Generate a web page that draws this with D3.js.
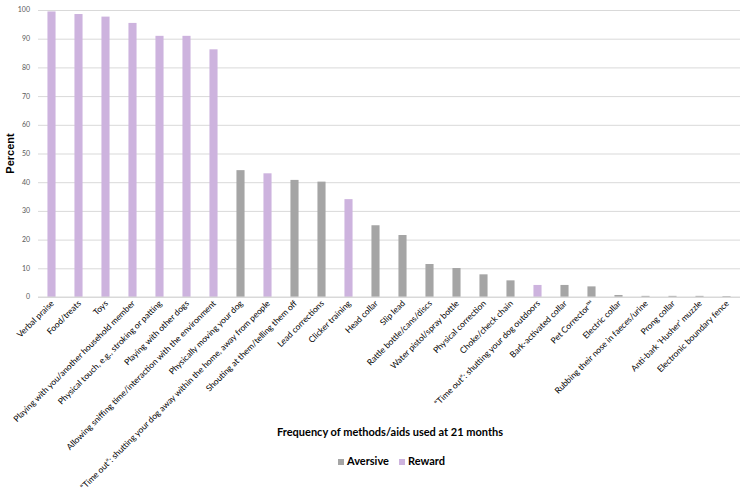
<!DOCTYPE html>
<html lang="en">
<head>
    <meta charset="UTF-8">
    <title>Frequency of methods/aids used at 21 months</title>
    <style>
        body { margin: 0; background: #fff; font-family: Lato, "Open Sans", sans-serif; }
        svg { display: block; }
        .grid line { stroke: #d9d9d9; stroke-width: 1; }
        .grid path { display: none; }
    </style>
    <script src="https://d3js.org/d3.v7.min.js"></script>
</head>
<body>
<svg width="746" height="499"></svg>
<script>
    const categories = [
        "Verbal praise", "Food/treats", "Toys", "Playing with you/another household member",
        "Physical touch, e.g., stroking or patting", "Playing with other dogs",
        "Allowing sniffing time/interaction with the environment", "Physically moving your dog",
        "\u201CTime out\u201D: shutting your dog away within the home, away from people",
        "Shouting at them/telling them off", "Lead corrections", "Clicker training",
        "Head collar", "Slip lead", "Rattle bottle/cans/discs", "Water pistol/spray bottle",
        "Physical correction", "Choke/check chain", "\u201CTime out\u201D: shutting your dog outdoors",
        "Bark-activated collar", "Pet Corrector\u2122", "Electric collar",
        "Rubbing their nose in faeces/urine", "Prong collar", "Anti-bark \u2018Husher\u2019 muzzle",
        "Electronic boundary fence"
    ];
    const values = [99.5, 98.6, 97.7, 95.5, 91.0, 91.0, 86.3, 44.2, 43.1, 40.8, 40.2, 34.1,
        25.0, 21.6, 11.5, 10.1, 7.9, 5.8, 4.2, 4.2, 3.7, 0.7, 0.4, 0.4, 0.4, 0.3];
    const types = ["Reward", "Reward", "Reward", "Reward", "Reward", "Reward", "Reward",
        "Aversive", "Reward", "Aversive", "Aversive", "Reward", "Aversive", "Aversive",
        "Aversive", "Aversive", "Aversive", "Aversive", "Reward", "Aversive", "Aversive",
        "Aversive", "Aversive", "Aversive", "Aversive", "Aversive"];
    const legendKeys = ["Aversive", "Reward"];
    const yTicks = [0, 10, 20, 30, 40, 50, 60, 70, 80, 90, 100];

    const data = categories.map((c, i) => ({ name: c, value: values[i], type: types[i] }));

    const svg = d3.select("svg");
    const margin = { top: 10, right: 6, bottom: 202, left: 38 };
    const width = 746, height = 499;

    const x = d3.scaleBand()
        .domain(categories)
        .range([margin.left, width - margin.right])
        .paddingInner(0.7)
        .paddingOuter(0.35);

    const y = d3.scaleLinear()
        .domain([0, 100])
        .range([height - margin.bottom, margin.top]);

    const color = d3.scaleOrdinal()
        .domain(legendKeys)
        .range(["#a5a5a5", "#cdb3de"]);

    // gridlines
    svg.append("g")
        .attr("class", "grid")
        .attr("transform", `translate(${margin.left},0)`)
        .call(d3.axisLeft(y).tickValues(yTicks).tickSize(-(width - margin.right - margin.left)).tickFormat(""));

    // y tick labels
    svg.append("g")
        .selectAll("text")
        .data(yTicks)
        .join("text")
        .attr("x", margin.left - 8)
        .attr("y", d => y(d))
        .attr("dy", "0.35em")
        .attr("text-anchor", "end")
        .attr("font-size", 7)
        .attr("fill", "#595959")
        .text(d => d);

    // bars
    svg.append("g")
        .selectAll("rect")
        .data(data)
        .join("rect")
        .attr("x", d => x(d.name))
        .attr("y", d => y(d.value))
        .attr("width", x.bandwidth())
        .attr("height", d => y(0) - y(d.value))
        .attr("fill", d => color(d.type));

    // baseline
    svg.append("line")
        .attr("x1", margin.left).attr("x2", width - margin.right)
        .attr("y1", y(0)).attr("y2", y(0))
        .attr("stroke", "#d9d9d9");

    // category labels
    svg.append("g")
        .selectAll("text")
        .data(categories)
        .join("text")
        .attr("transform", d => `translate(${x(d) + x.bandwidth() / 2 + 3},${y(0) + 7}) rotate(-45)`)
        .attr("text-anchor", "end")
        .attr("font-size", 8.5)
        .attr("fill", "#000")
        .text(d => d);

    // axis titles
    svg.append("text")
        .attr("transform", `translate(14,${y(50)}) rotate(-90)`)
        .attr("text-anchor", "middle")
        .attr("font-size", 11)
        .attr("font-weight", "bold")
        .attr("font-family", "Liberation Sans, Arial, sans-serif")
        .text("Percent");

    svg.append("text")
        .attr("x", 390)
        .attr("y", 436)
        .attr("text-anchor", "middle")
        .attr("font-size", 11)
        .attr("font-weight", "bold")
        .text("Frequency of methods/aids used at 21 months");

    // legend
    const legend = svg.append("g")
        .selectAll("g")
        .data(legendKeys)
        .join("g")
        .attr("transform", (d, i) => `translate(${338 + i * 61},465)`);

    legend.append("rect")
        .attr("x", 0).attr("y", -6)
        .attr("width", 6).attr("height", 6)
        .attr("fill", d => color(d));

    legend.append("text")
        .attr("x", 9)
        .attr("y", 0)
        .attr("font-size", 11)
        .attr("font-weight", "bold")
        .text(d => d);
</script>
</body>
</html>
